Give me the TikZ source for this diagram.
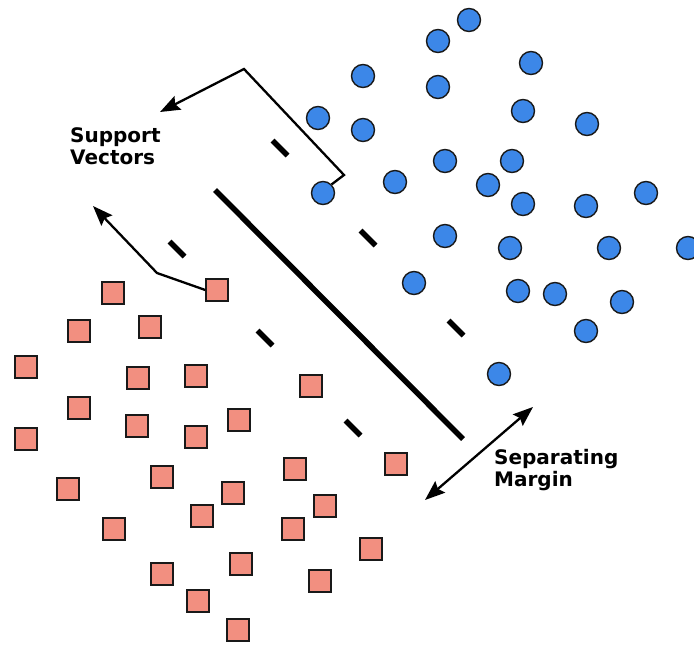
\documentclass[tikz,border=0pt]{standalone}
\usepackage{fontspec}
\setmainfont{DejaVu Sans}
\usetikzlibrary{arrows.meta}
\definecolor{dotblue}{RGB}{60,135,232}
\definecolor{boxsalmon}{RGB}{242,143,128}
\definecolor{edge}{RGB}{25,25,25}
\begin{document}
\begin{tikzpicture}[x=1pt,y=-1pt,
  dot/.style={circle,minimum size=23pt,inner sep=0pt,fill=dotblue,draw=edge,line width=1.4pt},
  sq/.style={rectangle,minimum size=22pt,inner sep=0pt,fill=boxsalmon,draw=edge,line width=1.4pt},
  hyper/.style={line width=5.5pt},
  margindash/.style={line width=5.5pt},
  pointer/.style={line width=2.3pt,-{Stealth[length=20pt,width=15pt,inset=3pt]}},
  twoway/.style={line width=2.3pt,{Stealth[length=20pt,width=15pt,inset=3pt]}-{Stealth[length=20pt,width=15pt,inset=3pt]}},
  label/.style={font=\bfseries\fontsize{20}{21.5}\selectfont,align=left,inner sep=0pt,anchor=north west}]
\useasboundingbox (0,0) rectangle (694,646);
\clip (0,0) rectangle (694,646);
\fill[white] (0,0) rectangle (694,646);

% positive class
\foreach \x/\y [count=\i] in {469/20,438/41,531/63,363/76,438/87,318/118,363/130,523/111,587/124,
  445/161,512/161,395/182,488/185,323/193,523/204,586/206,646/193,445/236,510/248,609/248,688/248,
  414/283,518/291,555/294,622/302,586/331,499/374}
  \node[dot] (c\i) at (\x,\y) {};

% negative class
\foreach \x/\y [count=\i] in {113/293,217/290,79/331,150/327,26/367,138/378,196/376,79/408,137/426,
  196/437,239/420,26/439,162/477,68/489,233/493,202/516,114/529,241/564,162/574,198/601,238/630,
  311/386,295/469,396/464,325/506,293/529,371/549,320/581}
  \node[sq] (s\i) at (\x,\y) {};

% separating hyperplane
\coordinate (h1) at (215,190);
\coordinate (h2) at (463,439);
\draw[hyper] (h1) -- (h2);

% margin boundaries
\foreach \x/\y in {280/148,368/238,456/328,177/249,265/338,353/428}
  \draw[margindash] (\x-7.5,\y-7.5) -- (\x+7.5,\y+7.5);

% labels
\node[label] (sv) at (70,127.5) {Support\\Vectors};
\node[label] (sm) at (494,449.5) {Separating\\Margin};

% pointers to the support vectors
\coordinate (a1) at (344,175);
\coordinate (a2) at (244,69);
\coordinate (a3) at (160,112);
\draw[pointer,line join=miter] (c14.north east) -- (a1) -- (a2) -- (a3);
\coordinate (b1) at (157,273);
\coordinate (b2) at (93,206);
\draw[pointer] (s2.west) -- (b1) -- (b2);

% margin width
\coordinate (m1) at (425,500);
\coordinate (m2) at (533,407);
\draw[twoway] (m1) -- (m2);
\end{tikzpicture}
\end{document}
